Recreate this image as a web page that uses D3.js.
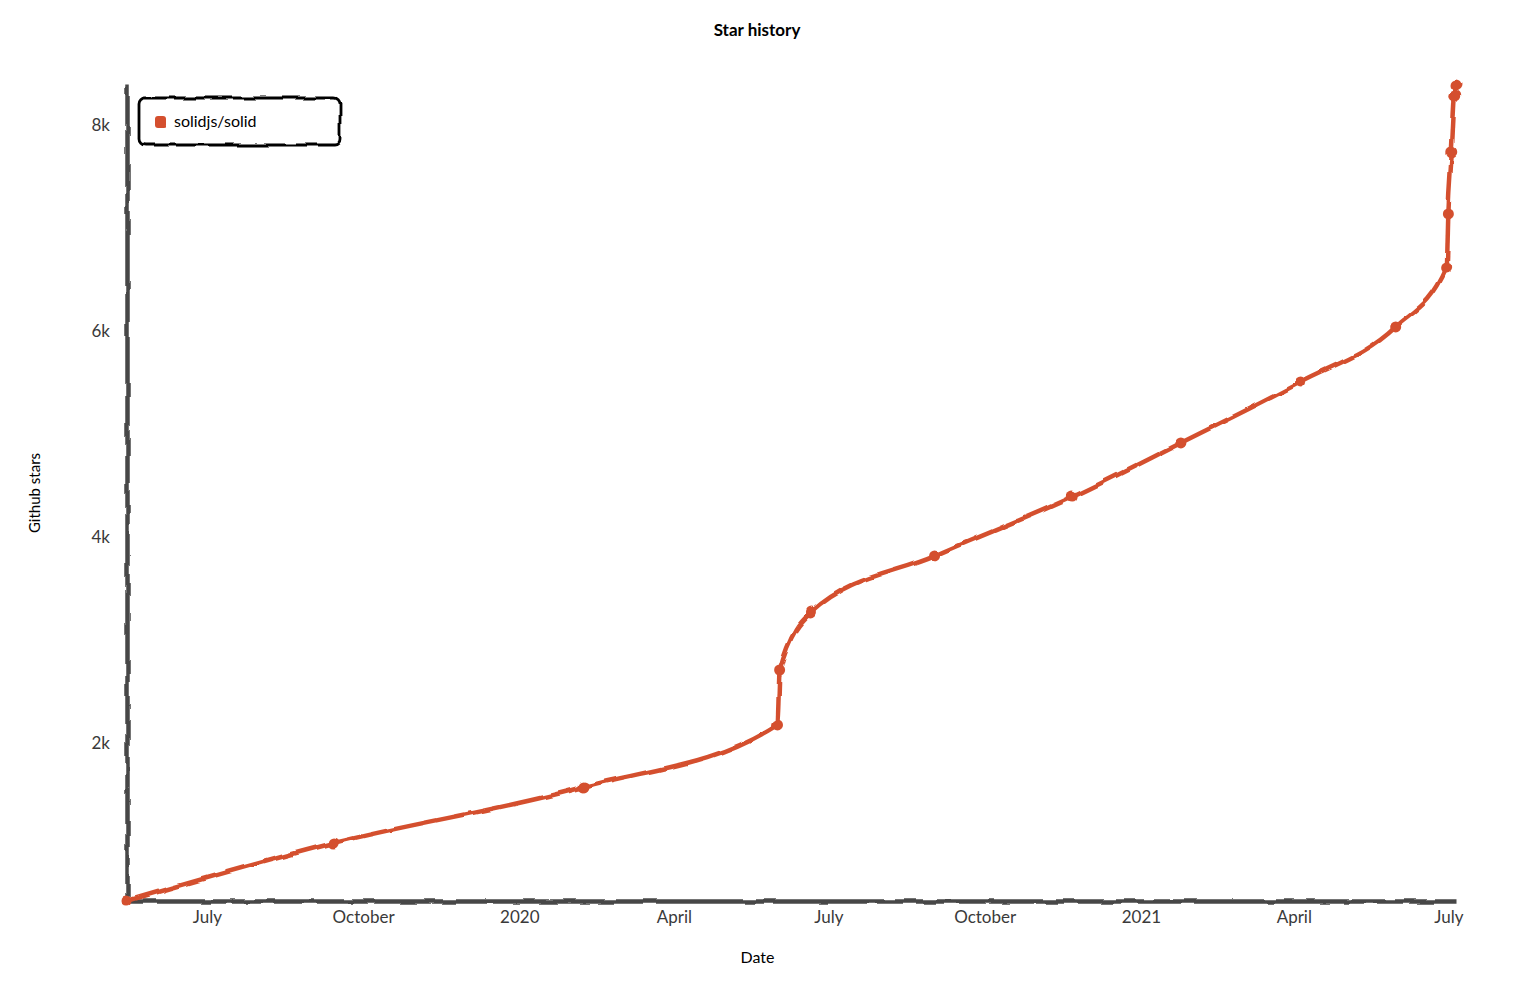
<!DOCTYPE html>
<html>
<head>
<meta charset="utf-8">
<script src="https://cdn.jsdelivr.net/npm/d3@7"></script>
<style>
  html, body { margin: 0; padding: 0; background: #fff; }
  svg { display: block; font-family: "Lato", "Open Sans", sans-serif; }
</style>
</head>
<body>
<svg id="chart" width="1514" height="998"></svg>
<script>
// ---- data ----
const seriesName = "solidjs/solid";
const dates = [
  "2019-05-15T00:00", "2019-09-14T00:00", "2020-02-08T00:00", "2020-06-01T00:00",
  "2020-06-02T06:00", "2020-06-21T00:00", "2020-09-01T12:00", "2020-11-21T12:00",
  "2021-01-24T12:00", "2021-04-05T00:00", "2021-05-31T00:00", "2021-06-30T00:00",
  "2021-07-01T00:00", "2021-07-03T00:00", "2021-07-04T18:00", "2021-07-05T12:00"
];
const stars = [
  466, 1029, 1573, 2175,
  2699, 3272, 3816, 4388,
  4913, 5505, 6039, 6612,
  7146, 7728, 8282, 8388
];
const xTickDates = ["2019-07-01", "2019-10-01", "2020-01-01", "2020-04-01",
                    "2020-07-01", "2020-10-01", "2021-01-01", "2021-04-01", "2021-07-01"];
const xTickLabels = ["July", "October", "2020", "April", "July", "October", "2021", "April", "July"];
const yTickValues = [2000, 4000, 6000, 8000];
const yTickLabels = ["2k", "4k", "6k", "8k"];

// ---- layout ----
const W = 1514, H = 998;
const plot = { left: 127, right: 1456, top: 85, bottom: 901 };
const lineColor = "#d4502f";
const axisColor = "#474747";

const parse = d3.isoParse;
const points = dates.map((d, i) => ({ date: parse(d), value: stars[i] }));

const svg = d3.select("#chart");

// xkcd style filter
const defs = svg.append("defs");
const filt = defs.append("filter")
  .attr("id", "xkcdify")
  .attr("filterUnits", "userSpaceOnUse")
  .attr("x", -5).attr("y", -5).attr("width", "100%").attr("height", "100%");
filt.append("feTurbulence").attr("type", "fractalNoise").attr("baseFrequency", 0.05).attr("result", "noise");
filt.append("feDisplacementMap").attr("scale", 5)
  .attr("xChannelSelector", "R").attr("yChannelSelector", "G")
  .attr("in", "SourceGraphic").attr("in2", "noise");

const x = d3.scaleTime()
  .domain(d3.extent(points, d => d.date))
  .range([plot.left, plot.right]);
const y = d3.scaleLinear()
  .domain(d3.extent(points, d => d.value))
  .range([plot.bottom, plot.top]);

// title
svg.append("text")
  .attr("x", W / 2).attr("y", 36)
  .attr("text-anchor", "middle")
  .attr("font-size", 17).attr("font-weight", "bold").attr("fill", "#000")
  .text("Star history");

// x axis
const xTickMap = new Map(xTickDates.map((d, i) => [+parse(d), xTickLabels[i]]));
const xAxis = d3.axisBottom(x)
  .tickValues(xTickDates.map(parse))
  .tickFormat(d => xTickMap.get(+d))
  .tickSize(0).tickPadding(10);
const gx = svg.append("g").attr("transform", `translate(0,${plot.bottom})`).call(xAxis);
gx.select(".domain").attr("stroke", axisColor).attr("stroke-width", 4.5).attr("filter", "url(#xkcdify)");
gx.selectAll("text").attr("font-size", 17).attr("fill", "#3a3a3a").attr("font-family", "Lato, sans-serif");

// y axis
const yTickMap = new Map(yTickValues.map((v, i) => [v, yTickLabels[i]]));
const yAxis = d3.axisLeft(y)
  .tickValues(yTickValues)
  .tickFormat(d => yTickMap.get(d))
  .tickSize(0).tickPadding(17);
const gy = svg.append("g").attr("transform", `translate(${plot.left},0)`).call(yAxis);
gy.select(".domain").attr("stroke", axisColor).attr("stroke-width", 4.5).attr("filter", "url(#xkcdify)");
gy.selectAll("text").attr("font-size", 17).attr("fill", "#3a3a3a").attr("font-family", "Lato, sans-serif");

// axis labels
svg.append("text")
  .attr("x", (plot.left + plot.right) / 2 - 34).attr("y", 963)
  .attr("text-anchor", "middle").attr("font-size", 16).attr("fill", "#000")
  .text("Date");
svg.append("text")
  .attr("transform", `translate(40,${(plot.top + plot.bottom) / 2})rotate(-90)`)
  .attr("text-anchor", "middle").attr("font-size", 15).attr("fill", "#000")
  .text("Github stars");

// line
const line = d3.line()
  .x(d => x(d.date)).y(d => y(d.value))
  .curve(d3.curveMonotoneX);
const gLine = svg.append("g").attr("filter", "url(#xkcdify)");
gLine.append("path")
  .datum(points)
  .attr("d", line)
  .attr("fill", "none")
  .attr("stroke", lineColor)
  .attr("stroke-width", 4.5)
  .attr("stroke-linecap", "round")
  .attr("stroke-linejoin", "round");
gLine.selectAll("circle")
  .data(points)
  .enter().append("circle")
  .attr("cx", d => x(d.date)).attr("cy", d => y(d.value))
  .attr("r", 5.5)
  .attr("fill", lineColor);

// legend
const gLeg = svg.append("g");
gLeg.append("rect")
  .attr("x", 139).attr("y", 98).attr("width", 201).attr("height", 47)
  .attr("rx", 6).attr("ry", 6)
  .attr("fill", "#fff").attr("stroke", "#000").attr("stroke-width", 2.8)
  .attr("filter", "url(#xkcdify)");
gLeg.append("rect")
  .attr("x", 155).attr("y", 116).attr("width", 12).attr("height", 12)
  .attr("rx", 3).attr("fill", lineColor).attr("filter", "url(#xkcdify)");
gLeg.append("text")
  .attr("x", 174).attr("y", 127)
  .attr("font-size", 16).attr("fill", "#000")
  .text(seriesName);
</script>
</body>
</html>
